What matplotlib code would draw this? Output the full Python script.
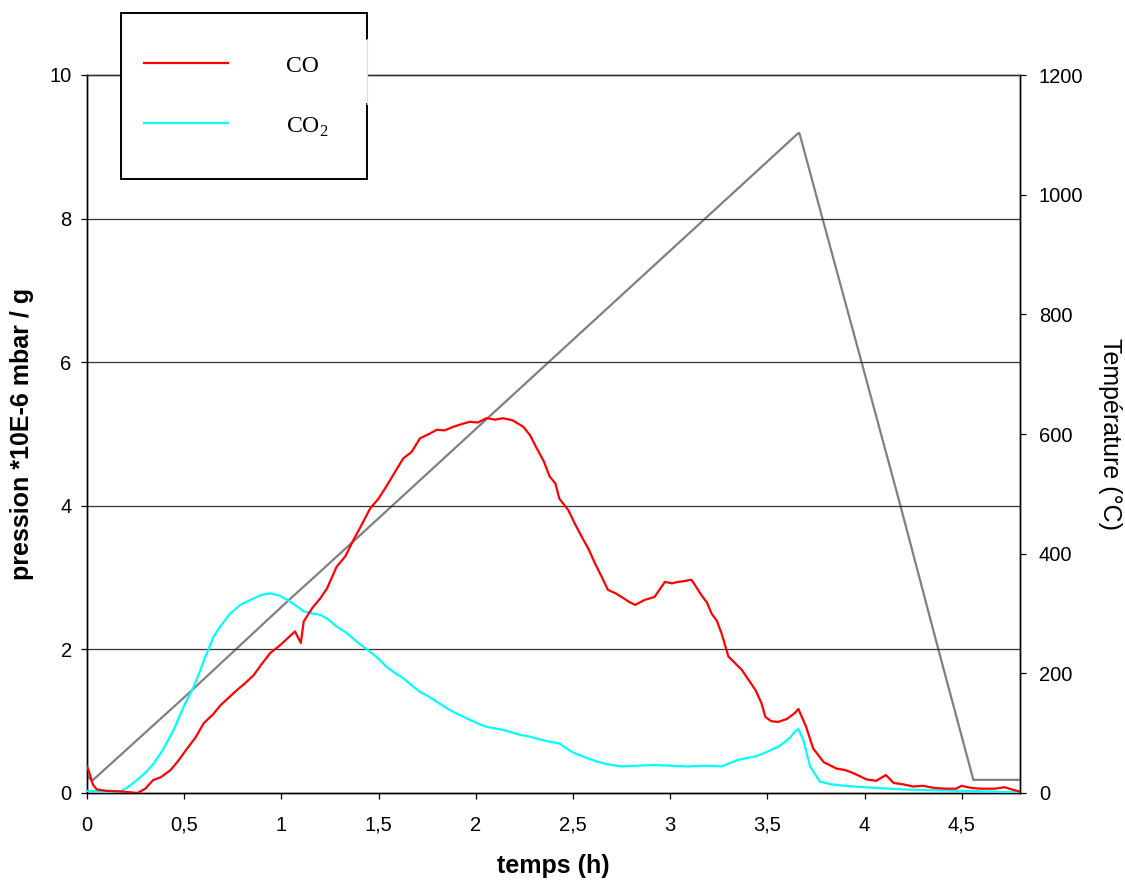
import matplotlib
matplotlib.use("Agg")
import matplotlib.pyplot as plt
from matplotlib.patches import Rectangle
from matplotlib.lines import Line2D

# ---- data ----
co_t = [0.0, 0.01, 0.03, 0.05, 0.1, 0.18, 0.26, 0.30, 0.34, 0.38, 0.43, 0.47, 0.51, 0.56, 0.60,
        0.65, 0.686, 0.73, 0.77, 0.81, 0.857, 0.90, 0.943, 0.99, 1.03, 1.07, 1.10, 1.115, 1.16, 1.2,
        1.235, 1.284, 1.33, 1.37, 1.41, 1.456, 1.50, 1.54, 1.58, 1.627, 1.67, 1.713, 1.76, 1.80,
        1.84, 1.884, 1.93, 1.97, 2.01, 2.056, 2.10, 2.14, 2.19, 2.245, 2.28, 2.31, 2.35, 2.38,
        2.41, 2.43, 2.476, 2.51, 2.545, 2.58, 2.613, 2.65, 2.68, 2.72, 2.75, 2.79, 2.82, 2.87,
        2.92, 2.95, 2.973, 3.01, 3.04, 3.07, 3.11, 3.16, 3.19, 3.213, 3.24, 3.265, 3.30, 3.33,
        3.37, 3.41, 3.44, 3.47, 3.49, 3.52, 3.556, 3.60, 3.64, 3.66, 3.70, 3.736, 3.79, 3.856,
        3.90, 3.94, 4.01, 4.06, 4.11, 4.15, 4.20, 4.25, 4.30, 4.36, 4.42, 4.47, 4.50, 4.55,
        4.60, 4.67, 4.72, 4.77, 4.80]
co_v = [0.37, 0.30, 0.12, 0.05, 0.03, 0.02, 0.0, 0.06, 0.18, 0.22, 0.32, 0.45, 0.60, 0.78, 0.97,
        1.10, 1.22, 1.33, 1.43, 1.52, 1.64, 1.80, 1.95, 2.05, 2.15, 2.25, 2.09, 2.39, 2.58, 2.71,
        2.85, 3.15, 3.30, 3.52, 3.72, 3.96, 4.10, 4.27, 4.45, 4.66, 4.75, 4.94, 5.00, 5.06,
        5.05, 5.10, 5.14, 5.17, 5.16, 5.22, 5.20, 5.22, 5.19, 5.10, 4.98, 4.82, 4.62, 4.41,
        4.31, 4.10, 3.94, 3.75, 3.57, 3.40, 3.20, 3.00, 2.83, 2.78, 2.73, 2.66, 2.62, 2.69,
        2.73, 2.85, 2.94, 2.92, 2.94, 2.95, 2.97, 2.76, 2.65, 2.50, 2.40, 2.22, 1.90, 1.82,
        1.71, 1.55, 1.43, 1.25, 1.06, 1.00, 0.99, 1.03, 1.11, 1.17, 0.92, 0.62, 0.43, 0.34,
        0.32, 0.28, 0.19, 0.17, 0.25, 0.14, 0.12, 0.09, 0.10, 0.07, 0.06, 0.06, 0.10, 0.07,
        0.06, 0.06, 0.08, 0.04, 0.02]

co2_t = [0.0, 0.08, 0.17, 0.21, 0.257, 0.30, 0.343, 0.39, 0.446, 0.497, 0.549, 0.583, 0.617,
         0.652, 0.686, 0.737, 0.789, 0.857, 0.90, 0.943, 0.99, 1.03, 1.07, 1.115, 1.16, 1.2,
         1.235, 1.284, 1.33, 1.37, 1.41, 1.456, 1.50, 1.54, 1.58, 1.627, 1.67, 1.713, 1.76,
         1.80, 1.84, 1.884, 1.93, 1.97, 2.01, 2.056, 2.10, 2.14, 2.19, 2.227, 2.27, 2.31, 2.37,
         2.43, 2.49, 2.53, 2.58, 2.62, 2.66, 2.70, 2.75, 2.83, 2.92, 3.00, 3.09, 3.18, 3.265,
         3.31, 3.35, 3.40, 3.44, 3.48, 3.52, 3.56, 3.59, 3.62, 3.64, 3.66, 3.685, 3.72, 3.77,
         3.83, 3.90, 4.00, 4.07, 4.20, 4.33, 4.50, 4.65, 4.76, 4.80]
co2_v = [0.03, 0.02, 0.02, 0.08, 0.18, 0.28, 0.41, 0.60, 0.88, 1.20, 1.48, 1.71, 1.95,
         2.18, 2.32, 2.50, 2.62, 2.71, 2.76, 2.78, 2.75, 2.69, 2.62, 2.53, 2.50, 2.48,
         2.43, 2.32, 2.24, 2.15, 2.06, 1.97, 1.87, 1.76, 1.68, 1.60, 1.50, 1.41, 1.34,
         1.27, 1.20, 1.13, 1.07, 1.02, 0.97, 0.92, 0.90, 0.88, 0.84, 0.81, 0.79, 0.76, 0.72,
         0.69, 0.58, 0.53, 0.48, 0.44, 0.41, 0.39, 0.37, 0.38, 0.39, 0.38, 0.37, 0.38, 0.37,
         0.42, 0.46, 0.49, 0.51, 0.55, 0.60, 0.65, 0.71, 0.78, 0.85, 0.89, 0.74, 0.37, 0.16,
         0.12, 0.10, 0.08, 0.07, 0.05, 0.04, 0.03, 0.02, 0.01, 0.01]

temp_t = [0.0, 0.025, 0.514, 1.03, 1.2, 1.56, 2.056, 2.16, 3.66, 3.665, 3.784, 3.985, 4.185,
          4.38, 4.56, 4.80]
temp_v = [30, 20, 164, 320, 370, 477, 625, 656, 1103, 1103, 960, 720, 480, 240, 22, 22]

x_ticks = [0, 0.5, 1, 1.5, 2, 2.5, 3, 3.5, 4, 4.5]
x_ticklabels = ["0", "0,5", "1", "1,5", "2", "2,5", "3", "3,5", "4", "4,5"]
y_ticks = [0, 2, 4, 6, 8, 10]
t_ticks = [0, 200, 400, 600, 800, 1000, 1200]

# ---- figure ----
plt.rcParams['font.family'] = ['Liberation Sans', 'DejaVu Sans']
plt.rcParams['mathtext.fontset'] = 'custom'
plt.rcParams['mathtext.rm'] = 'Liberation Serif'

W, H = 1125, 886
fig = plt.figure(figsize=(W / 100, H / 100), dpi=100)

ax = fig.add_axes([87 / W, 93 / H, 933 / W, 718 / H])
ax2 = ax.twinx()

ax.set_xlim(0, 4.8)
ax.set_ylim(0, 10)
ax2.set_ylim(0, 1200)

for yv in y_ticks[1:-1]:
    ax.axhline(yv, color="#333333", lw=0.9, zorder=0)

ax2.plot(temp_t, temp_v, color="#808080", lw=1.6, zorder=3)
ax.plot(co2_t, co2_v, color="#00ffff", lw=1.6, zorder=4)
ax.plot(co_t, co_v, color="#ff0000", lw=1.6, zorder=5)
ax.set_zorder(ax2.get_zorder() + 1)
ax.patch.set_visible(False)

ax.set_xticks(x_ticks)
ax.set_xticklabels(x_ticklabels)
ax.set_yticks(y_ticks)
ax2.set_yticks(t_ticks)

for a in (ax, ax2):
    a.tick_params(direction="out", length=4.5, width=0.9, labelsize=14.5, color="black")
    for s in a.spines.values():
        s.set_linewidth(1.0)
        s.set_color("black")
for a in (ax, ax2):
    a.spines["top"].set_color("#333333")
ax.tick_params(axis="x", pad=12)
ax.tick_params(axis="y", pad=6.5)
ax2.tick_params(axis="y", pad=9)

ax.set_xlabel("temps (h)", fontsize=18, fontweight="bold", labelpad=14)
ax.set_ylabel("pression *10E-6 mbar / g", fontsize=18, fontweight="bold", labelpad=11)
ax2.set_ylabel("Température (°C)", fontsize=18, rotation=270, labelpad=28)

# ---- legend box (drawn in figure pixels) ----
def fx(px):
    return px / W

def fy(py):
    return 1 - py / H

fig.patches.append(Rectangle((fx(121), fy(179)), 246 / W, 166 / H,
                             transform=fig.transFigure, facecolor="white",
                             edgecolor="none", zorder=10))
border = [((121, 13), (367, 13)), ((121, 13), (121, 179)), ((121, 179), (367, 179)),
          ((367, 13), (367, 39)), ((367, 104), (367, 179))]
for (x0, y0), (x1, y1) in border:
    fig.lines.append(Line2D([fx(x0), fx(x1)], [fy(y0), fy(y1)], transform=fig.transFigure,
                            color="black", lw=1.4, zorder=11))
fig.lines.append(Line2D([fx(367), fx(367)], [fy(39), fy(104)], transform=fig.transFigure,
                        color="#dddddd", lw=0.8, zorder=11))
fig.lines.append(Line2D([fx(144), fx(228)], [fy(63), fy(63)], transform=fig.transFigure,
                        color="#ff0000", lw=1.6, zorder=11))
fig.lines.append(Line2D([fx(144), fx(228)], [fy(123), fy(123)], transform=fig.transFigure,
                        color="#00ffff", lw=1.6, zorder=11))
fig.text(fx(286), fy(66), "CO", fontsize=17, family="Liberation Serif",
         va="center", ha="left", zorder=12)
fig.text(fx(286), fy(127), r"CO$_\mathregular{2}$", fontsize=17, family="Liberation Serif",
         va="center", ha="left", zorder=12)

fig.savefig("out.png", dpi=100)
